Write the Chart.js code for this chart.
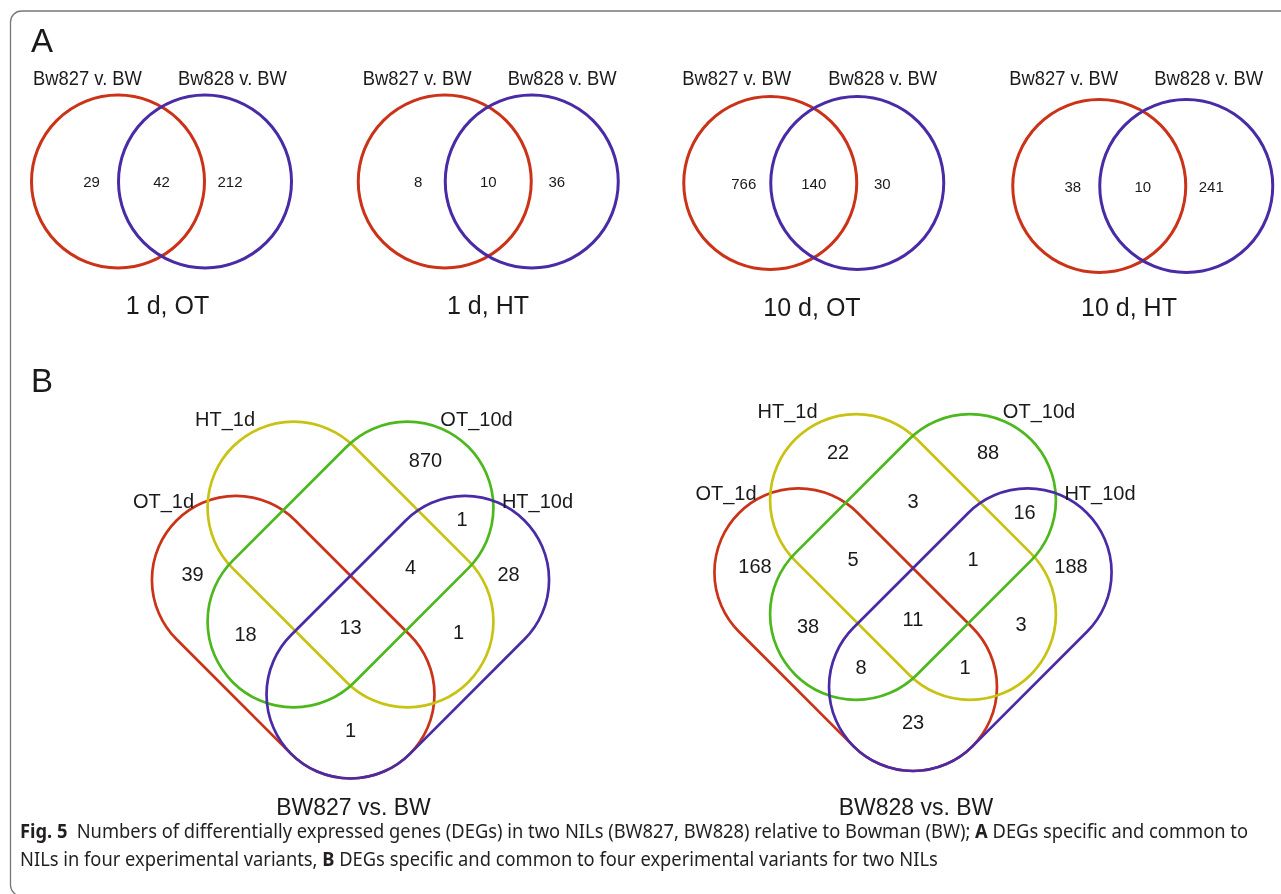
<!DOCTYPE html>
<html>
<head>
<meta charset="utf-8">
<script src="https://cdn.jsdelivr.net/npm/chart.js@4.4.0/dist/chart.umd.min.js"></script>
<style>
    html, body { margin: 0; padding: 0; background: #fff; }
    #wrap { position: relative; width: 1281px; height: 894px; overflow: hidden; }
    #fig { position: absolute; left: 0; top: 0; }
    #caption {
        position: absolute; left: 20px; top: 817px;
        font-family: "Noto Sans", sans-serif; font-size: 19px; line-height: 28px;
        color: #231f20; white-space: nowrap; transform-origin: 0 0;
    }
    #caption .ln { display: inline-block; }
</style>
</head>
<body>
<div id="wrap">
    <canvas id="fig" width="1281" height="894"></canvas>
    <div id="caption">
        <span class="ln" id="capLine1"><b>Fig. 5</b>&ensp;Numbers of differentially expressed genes (DEGs) in two NILs (BW827, BW828) relative to Bowman (BW); <b>A</b> DEGs specific and common to</span><br>
        <span class="ln">NILs in four experimental variants, <b>B</b> DEGs specific and common to four experimental variants for two NILs</span>
    </div>
</div>
<script>
// --- panel A: two NILs per experimental variant ---
const pairSets = ['Bw827 v. BW', 'Bw828 v. BW'];
const pairPanels = ['1 d, OT', '1 d, HT', '10 d, OT', '10 d, HT'];
const only827 = [29, 8, 766, 38];
const shared = [42, 10, 140, 10];
const only828 = [212, 36, 30, 241];

// --- panel B: four variants per NIL ---
const quadSets = ['OT_1d', 'HT_1d', 'OT_10d', 'HT_10d'];   // A, B, C, D
const quadPanels = ['BW827 vs. BW', 'BW828 vs. BW'];
const quadRegions = ['A', 'B', 'C', 'D', 'AB', 'AC', 'AD', 'BC', 'BD', 'CD', 'ABC', 'ABD', 'ACD', 'BCD', 'ABCD'];
const bw827Counts = [39, null, 870, 28, null, 18, 1, null, 1, 1, null, null, null, 4, 13];
const bw828Counts = [168, 22, 88, 188, null, 38, 23, 3, 3, 16, 5, 1, 8, 1, 11];

// layout (figure units = pixels of the page)
const RED = '#cb3319', BLUE = '#4a2ba6', YELLOW = '#c8c212', GREEN = '#4db81e';
const INK = '#1a1a1a';
const FONT = '"Liberation Sans", Arial, Helvetica, sans-serif';

const PAIR_R = 86.5, PAIR_GAP = 87, PAIR_LABEL_Y = 79;
const pairLayout = [
    { cx: 161.5, cy: 181.5, l1: -74, l2: 71, tx: 167.5, ty: 307 },
    { cx: 488.25, cy: 181.5, l1: -71, l2: 74, tx: 488, ty: 307 },
    { cx: 813.75, cy: 183, l1: -77, l2: 69, tx: 812, ty: 309 },
    { cx: 1142.75, cy: 186, l1: -79, l2: 66, tx: 1129, ty: 309 },
];
const pairCountDx = [-70, 0, 68.5];

const quadLayout = [
    { x0: 350.5, dy: 0 },
    { x0: 913, dy: -7.5 },
];
// capsule shapes: centre offset from the axis, tilt direction, half length, radius
// (red and blue share their lower cap, yellow and green share their centre)
const quadShapes = [
    { dx: -57.3, y: 637.2, dir: 1, h: 81, r: 84, color: RED },
    { dx: 0, y: 564.5, dir: 1, h: 80.5, r: 86, color: YELLOW },
    { dx: 0, y: 564.5, dir: -1, h: 80.5, r: 86, color: GREEN },
    { dx: 57.3, y: 637.2, dir: -1, h: 81, r: 84, color: BLUE },
];
const quadSetPos = [[-187, 502], [-125.5, 420], [126, 420], [187, 502]];
const regionPos = {
    A: [-158, 575], B: [-75, 461], C: [75, 461], D: [158, 575],
    AB: [-111.5, 520.5], AC: [-105, 635], AD: [0, 731], BC: [0, 509.5],
    BD: [108, 633], CD: [111.5, 520.5], ABC: [-60, 568], ABD: [52, 676],
    ACD: [-52, 676], BCD: [60, 568], ABCD: [0, 628],
};
const QUAD_TITLE_Y = 809;

// points the count labels hang on
const pairPoints = [];
pairLayout.forEach((p, i) => {
    [only827[i], shared[i], only828[i]].forEach((v, k) => {
        pairPoints.push({ x: p.cx + pairCountDx[k], y: p.cy + 1.5, count: v });
    });
});
const quadPoints = [];
[bw827Counts, bw828Counts].forEach((counts, i) => {
    const q = quadLayout[i];
    quadRegions.forEach((key, k) => {
        if (counts[k] === null) return;
        const [dx, y] = regionPos[key];
        quadPoints.push({ x: q.x0 + dx, y: y + q.dy, count: counts[k] });
    });
});

function drawText(ctx, str, x, y, size, squeeze = 1, weight = 'normal', align = 'center', base = 'middle') {
    ctx.save();
    ctx.font = `${weight} ${size}px ${FONT}`;
    ctx.fillStyle = INK;
    ctx.textAlign = align;
    ctx.textBaseline = base;
    ctx.translate(x, y);
    ctx.scale(squeeze, 1);
    ctx.fillText(str, 0, 0);
    ctx.restore();
}

const vennPlugin = {
    id: 'venn',
    beforeDatasetsDraw(chart) {
        const { ctx } = chart;
        const sx = chart.scales.x, sy = chart.scales.y;
        const px = v => sx.getPixelForValue(v);
        const py = v => sy.getPixelForValue(v);
        const len = v => Math.abs(px(v) - px(0));

        ctx.save();
        // figure frame, running off the right and bottom edges
        ctx.strokeStyle = '#777';
        ctx.lineWidth = 1.3;
        ctx.beginPath();
        ctx.roundRect(px(10.5), py(11), len(1340), len(885), 11);
        ctx.stroke();

        drawText(ctx, 'A', px(31), py(52), 33, 1, 'normal', 'left', 'alphabetic');
        drawText(ctx, 'B', px(31), py(392), 33, 1, 'normal', 'left', 'alphabetic');

        // two-circle diagrams
        pairLayout.forEach((p, i) => {
            [[-1, RED], [1, BLUE]].forEach(([s, color]) => {
                ctx.beginPath();
                ctx.arc(px(p.cx + s * PAIR_GAP / 2), py(p.cy), len(PAIR_R), 0, Math.PI * 2);
                ctx.strokeStyle = color;
                ctx.lineWidth = 3;
                ctx.stroke();
            });
            drawText(ctx, pairSets[0], px(p.cx + p.l1), py(PAIR_LABEL_Y), 21, 0.875);
            drawText(ctx, pairSets[1], px(p.cx + p.l2), py(PAIR_LABEL_Y), 21, 0.875);
            drawText(ctx, pairPanels[i], px(p.tx), py(p.ty), 25);
        });

        // four-capsule diagrams
        quadLayout.forEach((q, i) => {
            quadShapes.forEach(s => {
                ctx.save();
                ctx.translate(px(q.x0 + s.dx), py(s.y + q.dy));
                ctx.rotate(s.dir * Math.PI / 4);
                const h = len(s.h), r = len(s.r);
                ctx.beginPath();
                ctx.moveTo(-h, -r);
                ctx.lineTo(h, -r);
                ctx.arc(h, 0, r, -Math.PI / 2, Math.PI / 2);
                ctx.lineTo(-h, r);
                ctx.arc(-h, 0, r, Math.PI / 2, Math.PI * 1.5);
                ctx.closePath();
                ctx.strokeStyle = s.color;
                ctx.lineWidth = 2.7;
                ctx.stroke();
                ctx.restore();
            });
            quadSets.forEach((name, k) => {
                const [dx, y] = quadSetPos[k];
                drawText(ctx, name, px(q.x0 + dx), py(y + q.dy), 20);
            });
            drawText(ctx, quadPanels[i], px(q.x0 + 3), py(QUAD_TITLE_Y), 23);
        });
        ctx.restore();
    },
    afterDatasetsDraw(chart) {
        const { ctx } = chart;
        const sizes = [15, 20];
        chart.data.datasets.forEach((ds, k) => {
            const meta = chart.getDatasetMeta(k);
            meta.data.forEach((el, j) => {
                drawText(ctx, String(ds.data[j].count), el.x, el.y, sizes[k]);
            });
        });
    }
};

const chart = new Chart(document.getElementById('fig'), {
    type: 'scatter',
    data: {
        datasets: [
            { label: 'NIL pairs', data: pairPoints, pointRadius: 0 },
            { label: 'variant sets', data: quadPoints, pointRadius: 0 },
        ]
    },
    options: {
        responsive: false,
        animation: false,
        events: [],
        layout: { padding: 0 },
        plugins: {
            legend: { display: false },
            tooltip: { enabled: false },
        },
        scales: {
            x: { type: 'linear', min: 0, max: 1281, display: false },
            y: { type: 'linear', min: 0, max: 894, reverse: true, display: false },
        }
    },
    plugins: [vennPlugin]
});

// squeeze the caption so the first line runs the full width
const cap = document.getElementById('caption');
const line1 = document.getElementById('capLine1');
cap.style.transform = `scaleX(${1228 / line1.getBoundingClientRect().width})`;
</script>
</body>
</html>
